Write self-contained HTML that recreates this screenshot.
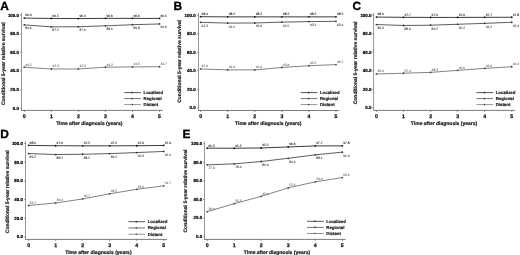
<!DOCTYPE html>
<html><head><meta charset="utf-8"><title>Figure</title>
<style>
html,body{margin:0;padding:0;background:#fff;}
svg{display:block;will-change:transform;text-rendering:geometricPrecision;font-family:"Liberation Sans",sans-serif;}
.l{font-size:11.9px;font-weight:bold;fill:#000;stroke:#000;stroke-width:.35}
.t{font-size:4.45px;font-weight:bold;fill:#000;text-anchor:end;stroke:#000;stroke-width:.2}
.x{font-size:5.2px;font-weight:bold;fill:#111;text-anchor:middle;stroke:#111;stroke-width:.25}
.a{font-size:5.0px;font-weight:bold;fill:#222;text-anchor:middle;stroke:#222;stroke-width:.22}
.b{font-size:5.0px;font-weight:bold;fill:#222;text-anchor:middle;stroke:#222;stroke-width:.2}
.d{font-size:3.3px;text-anchor:middle;stroke-width:.08}
.g{font-size:4.3px;font-weight:bold;fill:#222;stroke:#222;stroke-width:.2}
</style></head><body>
<svg width="520" height="255" viewBox="0 0 520 255">
<rect width="520" height="255" fill="#fff"/>

<g>
<text class="l" x="0.3" y="9.6">A</text>
<path d="M21.5 12.80 V110.4" fill="none" stroke="#6a6a6a" stroke-width="0.7"/>
<path d="M21.15 110.4 H162.85" fill="none" stroke="#444" stroke-width="0.7"/>
<path d="M20.2 108.40 H21.5" stroke="#444" stroke-width="0.6"/>
<text class="t" x="19.00" y="109.70">0.0</text>
<path d="M20.2 89.76 H21.5" stroke="#444" stroke-width="0.6"/>
<text class="t" x="19.00" y="91.06">20.0</text>
<path d="M20.2 71.12 H21.5" stroke="#444" stroke-width="0.6"/>
<text class="t" x="19.00" y="72.42">40.0</text>
<path d="M20.2 52.48 H21.5" stroke="#444" stroke-width="0.6"/>
<text class="t" x="19.00" y="53.78">60.0</text>
<path d="M20.2 33.84 H21.5" stroke="#444" stroke-width="0.6"/>
<text class="t" x="19.00" y="35.14">80.0</text>
<path d="M20.2 15.20 H21.5" stroke="#444" stroke-width="0.6"/>
<text class="t" x="19.00" y="16.50">100.0</text>
<path d="M24.30 110.4 V111.9" stroke="#444" stroke-width="0.6"/>
<text class="x" x="24.30" y="117.60">0</text>
<path d="M51.35 110.4 V111.9" stroke="#444" stroke-width="0.6"/>
<text class="x" x="51.35" y="117.60">1</text>
<path d="M78.40 110.4 V111.9" stroke="#444" stroke-width="0.6"/>
<text class="x" x="78.40" y="117.60">2</text>
<path d="M105.45 110.4 V111.9" stroke="#444" stroke-width="0.6"/>
<text class="x" x="105.45" y="117.60">3</text>
<path d="M132.50 110.4 V111.9" stroke="#444" stroke-width="0.6"/>
<text class="x" x="132.50" y="117.60">4</text>
<path d="M159.55 110.4 V111.9" stroke="#444" stroke-width="0.6"/>
<text class="x" x="159.55" y="117.60">5</text>
<text class="a" x="89.30" y="124.80">Time after diagnosis (years)</text>
<text class="b" transform="translate(3.00 63.70) rotate(-90)" y="1.6">Conditional 5-year relative survival</text>
<polyline points="24.30,18.09 51.35,18.46 78.40,18.56 105.45,18.37 132.50,18.37 159.55,18.46" fill="none" stroke="#111" stroke-width="0.82"/>
<circle cx="24.30" cy="18.09" r="0.9" fill="#111"/>
<text class="d" fill="#222" stroke="#222" x="28.50" y="16.44">96.9</text>
<circle cx="51.35" cy="18.46" r="0.9" fill="#111"/>
<text class="d" fill="#222" stroke="#222" x="55.55" y="16.81">96.5</text>
<circle cx="78.40" cy="18.56" r="0.9" fill="#111"/>
<text class="d" fill="#222" stroke="#222" x="82.60" y="16.91">96.4</text>
<circle cx="105.45" cy="18.37" r="0.9" fill="#111"/>
<text class="d" fill="#222" stroke="#222" x="109.65" y="16.72">96.6</text>
<circle cx="132.50" cy="18.37" r="0.9" fill="#111"/>
<text class="d" fill="#222" stroke="#222" x="136.70" y="16.72">96.6</text>
<circle cx="159.55" cy="18.46" r="0.9" fill="#111"/>
<text class="d" fill="#222" stroke="#222" x="163.75" y="16.81">96.5</text>
<polyline points="24.30,24.89 51.35,26.85 78.40,26.76 105.45,25.82 132.50,24.71 159.55,23.96" fill="none" stroke="#3a3a3a" stroke-width="0.82"/>
<circle cx="24.30" cy="24.89" r="0.9" fill="#333"/>
<text class="d" fill="#4a4a4a" stroke="#4a4a4a" x="28.50" y="29.39">89.6</text>
<circle cx="51.35" cy="26.85" r="0.9" fill="#333"/>
<text class="d" fill="#4a4a4a" stroke="#4a4a4a" x="55.55" y="31.35">87.5</text>
<circle cx="78.40" cy="26.76" r="0.9" fill="#333"/>
<text class="d" fill="#4a4a4a" stroke="#4a4a4a" x="82.60" y="31.26">87.6</text>
<circle cx="105.45" cy="25.82" r="0.9" fill="#333"/>
<text class="d" fill="#4a4a4a" stroke="#4a4a4a" x="109.65" y="30.32">88.6</text>
<circle cx="132.50" cy="24.71" r="0.9" fill="#333"/>
<text class="d" fill="#4a4a4a" stroke="#4a4a4a" x="136.70" y="29.21">89.8</text>
<circle cx="159.55" cy="23.96" r="0.9" fill="#333"/>
<text class="d" fill="#4a4a4a" stroke="#4a4a4a" x="163.75" y="28.46">90.6</text>
<polyline points="24.30,67.21 51.35,68.98 78.40,68.98 105.45,67.21 132.50,66.93 159.55,66.74" fill="none" stroke="#666" stroke-width="0.82"/>
<circle cx="24.30" cy="67.21" r="0.9" fill="#444"/>
<text class="d" fill="#6a6a6a" stroke="#6a6a6a" x="28.50" y="65.56">44.2</text>
<circle cx="51.35" cy="68.98" r="0.9" fill="#444"/>
<text class="d" fill="#6a6a6a" stroke="#6a6a6a" x="55.55" y="67.33">42.3</text>
<circle cx="78.40" cy="68.98" r="0.9" fill="#444"/>
<text class="d" fill="#6a6a6a" stroke="#6a6a6a" x="82.60" y="67.33">42.3</text>
<circle cx="105.45" cy="67.21" r="0.9" fill="#444"/>
<text class="d" fill="#6a6a6a" stroke="#6a6a6a" x="109.65" y="65.56">44.2</text>
<circle cx="132.50" cy="66.93" r="0.9" fill="#444"/>
<text class="d" fill="#6a6a6a" stroke="#6a6a6a" x="136.70" y="65.28">44.5</text>
<circle cx="159.55" cy="66.74" r="0.9" fill="#444"/>
<text class="d" fill="#6a6a6a" stroke="#6a6a6a" x="163.75" y="65.09">44.7</text>
<path d="M124.25 92.60 H140.95" stroke="#111" stroke-width="0.7"/><circle cx="132.15" cy="92.60" r="0.8" fill="#111"/>
<text class="g" x="143.55" y="94.10">Localized</text>
<path d="M124.25 98.60 H140.95" stroke="#3a3a3a" stroke-width="0.7"/><circle cx="132.15" cy="98.60" r="0.8" fill="#333"/>
<text class="g" x="143.55" y="100.10">Regional</text>
<path d="M124.25 104.60 H140.95" stroke="#666" stroke-width="0.7"/><circle cx="132.15" cy="104.60" r="0.8" fill="#444"/>
<text class="g" x="143.55" y="106.10">Distant</text>
</g>
<g>
<text class="l" x="173.6" y="9.7">B</text>
<path d="M198.5 12.80 V110.5" fill="none" stroke="#6a6a6a" stroke-width="0.7"/>
<path d="M198.15 110.5 H339.30" fill="none" stroke="#444" stroke-width="0.7"/>
<path d="M197.2 107.90 H198.5" stroke="#444" stroke-width="0.6"/>
<text class="t" x="195.70" y="109.20">0.0</text>
<path d="M197.2 89.36 H198.5" stroke="#444" stroke-width="0.6"/>
<text class="t" x="195.70" y="90.66">20.0</text>
<path d="M197.2 70.82 H198.5" stroke="#444" stroke-width="0.6"/>
<text class="t" x="195.70" y="72.12">40.0</text>
<path d="M197.2 52.28 H198.5" stroke="#444" stroke-width="0.6"/>
<text class="t" x="195.70" y="53.58">60.0</text>
<path d="M197.2 33.74 H198.5" stroke="#444" stroke-width="0.6"/>
<text class="t" x="195.70" y="35.04">80.0</text>
<path d="M197.2 15.20 H198.5" stroke="#444" stroke-width="0.6"/>
<text class="t" x="195.70" y="16.50">100.0</text>
<path d="M200.60 110.5 V112.0" stroke="#444" stroke-width="0.6"/>
<text class="x" x="200.60" y="117.70">0</text>
<path d="M227.68 110.5 V112.0" stroke="#444" stroke-width="0.6"/>
<text class="x" x="227.68" y="117.70">1</text>
<path d="M254.76 110.5 V112.0" stroke="#444" stroke-width="0.6"/>
<text class="x" x="254.76" y="117.70">2</text>
<path d="M281.84 110.5 V112.0" stroke="#444" stroke-width="0.6"/>
<text class="x" x="281.84" y="117.70">3</text>
<path d="M308.92 110.5 V112.0" stroke="#444" stroke-width="0.6"/>
<text class="x" x="308.92" y="117.70">4</text>
<path d="M336.00 110.5 V112.0" stroke="#444" stroke-width="0.6"/>
<text class="x" x="336.00" y="117.70">5</text>
<text class="a" x="268.20" y="124.90">Time after diagnosis (years)</text>
<text class="b" transform="translate(179.20 61.40) rotate(-90)" y="1.6">Conditional 5-year relative survival</text>
<polyline points="200.60,16.68 227.68,16.87 254.76,16.87 281.84,16.87 308.92,16.87 336.00,16.87" fill="none" stroke="#111" stroke-width="0.82"/>
<circle cx="200.60" cy="16.68" r="0.9" fill="#111"/>
<text class="d" fill="#222" stroke="#222" x="204.80" y="15.03">98.4</text>
<circle cx="227.68" cy="16.87" r="0.9" fill="#111"/>
<text class="d" fill="#222" stroke="#222" x="231.88" y="15.22">98.2</text>
<circle cx="254.76" cy="16.87" r="0.9" fill="#111"/>
<text class="d" fill="#222" stroke="#222" x="258.96" y="15.22">98.2</text>
<circle cx="281.84" cy="16.87" r="0.9" fill="#111"/>
<text class="d" fill="#222" stroke="#222" x="286.04" y="15.22">98.2</text>
<circle cx="308.92" cy="16.87" r="0.9" fill="#111"/>
<text class="d" fill="#222" stroke="#222" x="313.12" y="15.22">98.2</text>
<circle cx="336.00" cy="16.87" r="0.9" fill="#111"/>
<text class="d" fill="#222" stroke="#222" x="340.20" y="15.22">98.2</text>
<polyline points="200.60,22.34 227.68,23.08 254.76,22.99 281.84,22.15 308.92,21.60 336.00,21.32" fill="none" stroke="#3a3a3a" stroke-width="0.82"/>
<circle cx="200.60" cy="22.34" r="0.9" fill="#333"/>
<text class="d" fill="#4a4a4a" stroke="#4a4a4a" x="204.80" y="26.84">92.3</text>
<circle cx="227.68" cy="23.08" r="0.9" fill="#333"/>
<text class="d" fill="#4a4a4a" stroke="#4a4a4a" x="231.88" y="27.58">91.5</text>
<circle cx="254.76" cy="22.99" r="0.9" fill="#333"/>
<text class="d" fill="#4a4a4a" stroke="#4a4a4a" x="258.96" y="27.49">91.6</text>
<circle cx="281.84" cy="22.15" r="0.9" fill="#333"/>
<text class="d" fill="#4a4a4a" stroke="#4a4a4a" x="286.04" y="26.65">92.5</text>
<circle cx="308.92" cy="21.60" r="0.9" fill="#333"/>
<text class="d" fill="#4a4a4a" stroke="#4a4a4a" x="313.12" y="26.10">93.1</text>
<circle cx="336.00" cy="21.32" r="0.9" fill="#333"/>
<text class="d" fill="#4a4a4a" stroke="#4a4a4a" x="340.20" y="25.82">93.4</text>
<polyline points="200.60,68.97 227.68,69.89 254.76,69.89 281.84,67.48 308.92,65.72 336.00,64.61" fill="none" stroke="#666" stroke-width="0.82"/>
<circle cx="200.60" cy="68.97" r="0.9" fill="#444"/>
<text class="d" fill="#6a6a6a" stroke="#6a6a6a" x="204.80" y="67.32">42.0</text>
<circle cx="227.68" cy="69.89" r="0.9" fill="#444"/>
<text class="d" fill="#6a6a6a" stroke="#6a6a6a" x="231.88" y="68.24">41.0</text>
<circle cx="254.76" cy="69.89" r="0.9" fill="#444"/>
<text class="d" fill="#6a6a6a" stroke="#6a6a6a" x="258.96" y="68.24">41.0</text>
<circle cx="281.84" cy="67.48" r="0.9" fill="#444"/>
<text class="d" fill="#6a6a6a" stroke="#6a6a6a" x="286.04" y="65.83">43.6</text>
<circle cx="308.92" cy="65.72" r="0.9" fill="#444"/>
<text class="d" fill="#6a6a6a" stroke="#6a6a6a" x="313.12" y="64.07">45.5</text>
<circle cx="336.00" cy="64.61" r="0.9" fill="#444"/>
<text class="d" fill="#6a6a6a" stroke="#6a6a6a" x="340.20" y="62.96">46.7</text>
<path d="M300.70 92.60 H317.40" stroke="#111" stroke-width="0.7"/><circle cx="308.60" cy="92.60" r="0.8" fill="#111"/>
<text class="g" x="320.00" y="94.10">Localized</text>
<path d="M300.70 98.60 H317.40" stroke="#3a3a3a" stroke-width="0.7"/><circle cx="308.60" cy="98.60" r="0.8" fill="#333"/>
<text class="g" x="320.00" y="100.10">Regional</text>
<path d="M300.70 104.60 H317.40" stroke="#666" stroke-width="0.7"/><circle cx="308.60" cy="104.60" r="0.8" fill="#444"/>
<text class="g" x="320.00" y="106.10">Distant</text>
</g>
<g>
<text class="l" x="352.4" y="9.7">C</text>
<path d="M373.6 12.80 V110.4" fill="none" stroke="#6a6a6a" stroke-width="0.7"/>
<path d="M373.25 110.4 H515.05" fill="none" stroke="#444" stroke-width="0.7"/>
<path d="M372.3 107.90 H373.6" stroke="#444" stroke-width="0.6"/>
<text class="t" x="371.50" y="109.20">0.0</text>
<path d="M372.3 89.36 H373.6" stroke="#444" stroke-width="0.6"/>
<text class="t" x="371.50" y="90.66">20.0</text>
<path d="M372.3 70.82 H373.6" stroke="#444" stroke-width="0.6"/>
<text class="t" x="371.50" y="72.12">40.0</text>
<path d="M372.3 52.28 H373.6" stroke="#444" stroke-width="0.6"/>
<text class="t" x="371.50" y="53.58">60.0</text>
<path d="M372.3 33.74 H373.6" stroke="#444" stroke-width="0.6"/>
<text class="t" x="371.50" y="35.04">80.0</text>
<path d="M372.3 15.20 H373.6" stroke="#444" stroke-width="0.6"/>
<text class="t" x="371.50" y="16.50">100.0</text>
<path d="M376.50 110.4 V111.9" stroke="#444" stroke-width="0.6"/>
<text class="x" x="376.50" y="117.60">0</text>
<path d="M403.55 110.4 V111.9" stroke="#444" stroke-width="0.6"/>
<text class="x" x="403.55" y="117.60">1</text>
<path d="M430.60 110.4 V111.9" stroke="#444" stroke-width="0.6"/>
<text class="x" x="430.60" y="117.60">2</text>
<path d="M457.65 110.4 V111.9" stroke="#444" stroke-width="0.6"/>
<text class="x" x="457.65" y="117.60">3</text>
<path d="M484.70 110.4 V111.9" stroke="#444" stroke-width="0.6"/>
<text class="x" x="484.70" y="117.60">4</text>
<path d="M511.75 110.4 V111.9" stroke="#444" stroke-width="0.6"/>
<text class="x" x="511.75" y="117.60">5</text>
<text class="a" x="444.00" y="124.80">Time after diagnosis (years)</text>
<text class="b" transform="translate(355.50 62.90) rotate(-90)" y="1.6">Conditional 5-year relative survival</text>
<polyline points="376.50,17.05 403.55,17.33 430.60,17.42 457.65,17.42 484.70,17.33 511.75,17.24" fill="none" stroke="#111" stroke-width="0.82"/>
<circle cx="376.50" cy="17.05" r="0.9" fill="#111"/>
<text class="d" fill="#222" stroke="#222" x="380.70" y="15.40">98.0</text>
<circle cx="403.55" cy="17.33" r="0.9" fill="#111"/>
<text class="d" fill="#222" stroke="#222" x="407.75" y="15.68">97.7</text>
<circle cx="430.60" cy="17.42" r="0.9" fill="#111"/>
<text class="d" fill="#222" stroke="#222" x="434.80" y="15.77">97.6</text>
<circle cx="457.65" cy="17.42" r="0.9" fill="#111"/>
<text class="d" fill="#222" stroke="#222" x="461.85" y="15.77">97.6</text>
<circle cx="484.70" cy="17.33" r="0.9" fill="#111"/>
<text class="d" fill="#222" stroke="#222" x="488.90" y="15.68">97.7</text>
<circle cx="511.75" cy="17.24" r="0.9" fill="#111"/>
<text class="d" fill="#222" stroke="#222" x="515.95" y="15.59">97.8</text>
<polyline points="376.50,24.56 403.55,25.49 430.60,25.21 457.65,24.28 484.70,23.36 511.75,22.25" fill="none" stroke="#3a3a3a" stroke-width="0.82"/>
<circle cx="376.50" cy="24.56" r="0.9" fill="#333"/>
<text class="d" fill="#4a4a4a" stroke="#4a4a4a" x="380.70" y="29.06">89.9</text>
<circle cx="403.55" cy="25.49" r="0.9" fill="#333"/>
<text class="d" fill="#4a4a4a" stroke="#4a4a4a" x="407.75" y="29.99">88.9</text>
<circle cx="430.60" cy="25.21" r="0.9" fill="#333"/>
<text class="d" fill="#4a4a4a" stroke="#4a4a4a" x="434.80" y="29.71">89.2</text>
<circle cx="457.65" cy="24.28" r="0.9" fill="#333"/>
<text class="d" fill="#4a4a4a" stroke="#4a4a4a" x="461.85" y="28.78">90.2</text>
<circle cx="484.70" cy="23.36" r="0.9" fill="#333"/>
<text class="d" fill="#4a4a4a" stroke="#4a4a4a" x="488.90" y="27.86">91.2</text>
<circle cx="511.75" cy="22.25" r="0.9" fill="#333"/>
<text class="d" fill="#4a4a4a" stroke="#4a4a4a" x="515.95" y="26.75">92.4</text>
<polyline points="376.50,73.97 403.55,73.23 430.60,72.40 457.65,70.36 484.70,68.41 511.75,66.74" fill="none" stroke="#666" stroke-width="0.82"/>
<circle cx="376.50" cy="73.97" r="0.9" fill="#444"/>
<text class="d" fill="#6a6a6a" stroke="#6a6a6a" x="380.70" y="72.32">36.6</text>
<circle cx="403.55" cy="73.23" r="0.9" fill="#444"/>
<text class="d" fill="#6a6a6a" stroke="#6a6a6a" x="407.75" y="71.58">37.4</text>
<circle cx="430.60" cy="72.40" r="0.9" fill="#444"/>
<text class="d" fill="#6a6a6a" stroke="#6a6a6a" x="434.80" y="70.75">38.3</text>
<circle cx="457.65" cy="70.36" r="0.9" fill="#444"/>
<text class="d" fill="#6a6a6a" stroke="#6a6a6a" x="461.85" y="68.71">40.5</text>
<circle cx="484.70" cy="68.41" r="0.9" fill="#444"/>
<text class="d" fill="#6a6a6a" stroke="#6a6a6a" x="488.90" y="66.76">42.6</text>
<circle cx="511.75" cy="66.74" r="0.9" fill="#444"/>
<text class="d" fill="#6a6a6a" stroke="#6a6a6a" x="515.95" y="65.09">44.4</text>
<path d="M476.45 92.60 H493.15" stroke="#111" stroke-width="0.7"/><circle cx="484.35" cy="92.60" r="0.8" fill="#111"/>
<text class="g" x="495.75" y="94.10">Localized</text>
<path d="M476.45 98.60 H493.15" stroke="#3a3a3a" stroke-width="0.7"/><circle cx="484.35" cy="98.60" r="0.8" fill="#333"/>
<text class="g" x="495.75" y="100.10">Regional</text>
<path d="M476.45 104.60 H493.15" stroke="#666" stroke-width="0.7"/><circle cx="484.35" cy="104.60" r="0.8" fill="#444"/>
<text class="g" x="495.75" y="106.10">Distant</text>
</g>
<g>
<text class="l" x="0.3" y="137.9">D</text>
<path d="M25.5 141.10 V239.4" fill="none" stroke="#6a6a6a" stroke-width="0.7"/>
<path d="M25.15 239.4 H167.05" fill="none" stroke="#444" stroke-width="0.7"/>
<path d="M24.2 237.00 H25.5" stroke="#444" stroke-width="0.6"/>
<text class="t" x="23.00" y="238.30">0.0</text>
<path d="M24.2 218.30 H25.5" stroke="#444" stroke-width="0.6"/>
<text class="t" x="23.00" y="219.60">20.0</text>
<path d="M24.2 199.60 H25.5" stroke="#444" stroke-width="0.6"/>
<text class="t" x="23.00" y="200.90">40.0</text>
<path d="M24.2 180.90 H25.5" stroke="#444" stroke-width="0.6"/>
<text class="t" x="23.00" y="182.20">60.0</text>
<path d="M24.2 162.20 H25.5" stroke="#444" stroke-width="0.6"/>
<text class="t" x="23.00" y="163.50">80.0</text>
<path d="M24.2 143.50 H25.5" stroke="#444" stroke-width="0.6"/>
<text class="t" x="23.00" y="144.80">100.0</text>
<path d="M28.60 239.4 V240.9" stroke="#444" stroke-width="0.6"/>
<text class="x" x="28.60" y="246.60">0</text>
<path d="M55.63 239.4 V240.9" stroke="#444" stroke-width="0.6"/>
<text class="x" x="55.63" y="246.60">1</text>
<path d="M82.66 239.4 V240.9" stroke="#444" stroke-width="0.6"/>
<text class="x" x="82.66" y="246.60">2</text>
<path d="M109.69 239.4 V240.9" stroke="#444" stroke-width="0.6"/>
<text class="x" x="109.69" y="246.60">3</text>
<path d="M136.72 239.4 V240.9" stroke="#444" stroke-width="0.6"/>
<text class="x" x="136.72" y="246.60">4</text>
<path d="M163.75 239.4 V240.9" stroke="#444" stroke-width="0.6"/>
<text class="x" x="163.75" y="246.60">5</text>
<text class="a" x="98.40" y="253.80">Time after diagnosis (years)</text>
<text class="b" transform="translate(7.00 191.80) rotate(-90)" y="1.6">Conditional 5-year relative survival</text>
<polyline points="28.60,145.37 55.63,145.74 82.66,145.84 109.69,145.84 136.72,145.74 163.75,145.46" fill="none" stroke="#111" stroke-width="0.82"/>
<circle cx="28.60" cy="145.37" r="0.9" fill="#111"/>
<text class="d" fill="#222" stroke="#222" x="32.80" y="143.72">98.0</text>
<circle cx="55.63" cy="145.74" r="0.9" fill="#111"/>
<text class="d" fill="#222" stroke="#222" x="59.83" y="144.09">97.6</text>
<circle cx="82.66" cy="145.84" r="0.9" fill="#111"/>
<text class="d" fill="#222" stroke="#222" x="86.86" y="144.19">97.5</text>
<circle cx="109.69" cy="145.84" r="0.9" fill="#111"/>
<text class="d" fill="#222" stroke="#222" x="113.89" y="144.19">97.5</text>
<circle cx="136.72" cy="145.74" r="0.9" fill="#111"/>
<text class="d" fill="#222" stroke="#222" x="140.92" y="144.09">97.6</text>
<circle cx="163.75" cy="145.46" r="0.9" fill="#111"/>
<text class="d" fill="#222" stroke="#222" x="167.95" y="143.81">97.9</text>
<polyline points="28.60,153.60 55.63,154.53 82.66,154.25 109.69,153.60 136.72,152.57 163.75,151.45" fill="none" stroke="#3a3a3a" stroke-width="0.82"/>
<circle cx="28.60" cy="153.60" r="0.9" fill="#333"/>
<text class="d" fill="#4a4a4a" stroke="#4a4a4a" x="32.80" y="158.10">89.2</text>
<circle cx="55.63" cy="154.53" r="0.9" fill="#333"/>
<text class="d" fill="#4a4a4a" stroke="#4a4a4a" x="59.83" y="159.03">88.2</text>
<circle cx="82.66" cy="154.25" r="0.9" fill="#333"/>
<text class="d" fill="#4a4a4a" stroke="#4a4a4a" x="86.86" y="158.75">88.5</text>
<circle cx="109.69" cy="153.60" r="0.9" fill="#333"/>
<text class="d" fill="#4a4a4a" stroke="#4a4a4a" x="113.89" y="158.10">89.2</text>
<circle cx="136.72" cy="152.57" r="0.9" fill="#333"/>
<text class="d" fill="#4a4a4a" stroke="#4a4a4a" x="140.92" y="157.07">90.3</text>
<circle cx="163.75" cy="151.45" r="0.9" fill="#333"/>
<text class="d" fill="#4a4a4a" stroke="#4a4a4a" x="167.95" y="155.95">91.5</text>
<polyline points="28.60,205.49 55.63,202.97 82.66,198.95 109.69,193.80 136.72,189.31 163.75,185.86" fill="none" stroke="#666" stroke-width="0.82"/>
<circle cx="28.60" cy="205.49" r="0.9" fill="#444"/>
<text class="d" fill="#6a6a6a" stroke="#6a6a6a" x="32.80" y="203.84">33.7</text>
<circle cx="55.63" cy="202.97" r="0.9" fill="#444"/>
<text class="d" fill="#6a6a6a" stroke="#6a6a6a" x="59.83" y="201.32">36.4</text>
<circle cx="82.66" cy="198.95" r="0.9" fill="#444"/>
<text class="d" fill="#6a6a6a" stroke="#6a6a6a" x="86.86" y="197.30">40.7</text>
<circle cx="109.69" cy="193.80" r="0.9" fill="#444"/>
<text class="d" fill="#6a6a6a" stroke="#6a6a6a" x="113.89" y="192.15">46.2</text>
<circle cx="136.72" cy="189.31" r="0.9" fill="#444"/>
<text class="d" fill="#6a6a6a" stroke="#6a6a6a" x="140.92" y="187.66">51.0</text>
<circle cx="163.75" cy="185.86" r="0.9" fill="#444"/>
<text class="d" fill="#6a6a6a" stroke="#6a6a6a" x="167.95" y="184.21">54.7</text>
<path d="M128.45 221.70 H145.15" stroke="#111" stroke-width="0.7"/><circle cx="136.35" cy="221.70" r="0.8" fill="#111"/>
<text class="g" x="147.75" y="223.20">Localized</text>
<path d="M128.45 227.95 H145.15" stroke="#3a3a3a" stroke-width="0.7"/><circle cx="136.35" cy="227.95" r="0.8" fill="#333"/>
<text class="g" x="147.75" y="229.45">Regional</text>
<path d="M128.45 234.20 H145.15" stroke="#666" stroke-width="0.7"/><circle cx="136.35" cy="234.20" r="0.8" fill="#444"/>
<text class="g" x="147.75" y="235.70">Distant</text>
</g>
<g>
<text class="l" x="182.6" y="137.8">E</text>
<path d="M204.5 141.40 V239.4" fill="none" stroke="#6a6a6a" stroke-width="0.7"/>
<path d="M204.15 239.4 H345.60" fill="none" stroke="#444" stroke-width="0.7"/>
<path d="M203.2 236.60 H204.5" stroke="#444" stroke-width="0.6"/>
<text class="t" x="202.20" y="237.90">0.0</text>
<path d="M203.2 218.04 H204.5" stroke="#444" stroke-width="0.6"/>
<text class="t" x="202.20" y="219.34">20.0</text>
<path d="M203.2 199.48 H204.5" stroke="#444" stroke-width="0.6"/>
<text class="t" x="202.20" y="200.78">40.0</text>
<path d="M203.2 180.92 H204.5" stroke="#444" stroke-width="0.6"/>
<text class="t" x="202.20" y="182.22">60.0</text>
<path d="M203.2 162.36 H204.5" stroke="#444" stroke-width="0.6"/>
<text class="t" x="202.20" y="163.66">80.0</text>
<path d="M203.2 143.80 H204.5" stroke="#444" stroke-width="0.6"/>
<text class="t" x="202.20" y="145.10">100.0</text>
<path d="M207.20 239.4 V240.9" stroke="#444" stroke-width="0.6"/>
<text class="x" x="207.20" y="246.60">0</text>
<path d="M234.22 239.4 V240.9" stroke="#444" stroke-width="0.6"/>
<text class="x" x="234.22" y="246.60">1</text>
<path d="M261.24 239.4 V240.9" stroke="#444" stroke-width="0.6"/>
<text class="x" x="261.24" y="246.60">2</text>
<path d="M288.26 239.4 V240.9" stroke="#444" stroke-width="0.6"/>
<text class="x" x="288.26" y="246.60">3</text>
<path d="M315.28 239.4 V240.9" stroke="#444" stroke-width="0.6"/>
<text class="x" x="315.28" y="246.60">4</text>
<path d="M342.30 239.4 V240.9" stroke="#444" stroke-width="0.6"/>
<text class="x" x="342.30" y="246.60">5</text>
<text class="a" x="277.00" y="253.80">Time after diagnosis (years)</text>
<text class="b" transform="translate(185.70 191.10) rotate(-90)" y="1.6">Conditional 5-year relative survival</text>
<polyline points="207.20,148.16 234.22,148.25 261.24,147.98 288.26,146.96 315.28,145.93 342.30,145.84" fill="none" stroke="#111" stroke-width="0.82"/>
<circle cx="207.20" cy="148.16" r="0.9" fill="#111"/>
<text class="d" fill="#222" stroke="#222" x="211.40" y="146.51">95.3</text>
<circle cx="234.22" cy="148.25" r="0.9" fill="#111"/>
<text class="d" fill="#222" stroke="#222" x="238.42" y="146.60">95.2</text>
<circle cx="261.24" cy="147.98" r="0.9" fill="#111"/>
<text class="d" fill="#222" stroke="#222" x="265.44" y="146.33">95.5</text>
<circle cx="288.26" cy="146.96" r="0.9" fill="#111"/>
<text class="d" fill="#222" stroke="#222" x="292.46" y="145.31">96.6</text>
<circle cx="315.28" cy="145.93" r="0.9" fill="#111"/>
<text class="d" fill="#222" stroke="#222" x="319.48" y="144.28">97.7</text>
<circle cx="342.30" cy="145.84" r="0.9" fill="#111"/>
<text class="d" fill="#222" stroke="#222" x="346.50" y="144.19">97.8</text>
<polyline points="207.20,164.87 234.22,163.84 261.24,161.52 288.26,158.28 315.28,154.84 342.30,152.15" fill="none" stroke="#3a3a3a" stroke-width="0.82"/>
<circle cx="207.20" cy="164.87" r="0.9" fill="#333"/>
<text class="d" fill="#4a4a4a" stroke="#4a4a4a" x="211.40" y="169.37">77.3</text>
<circle cx="234.22" cy="163.84" r="0.9" fill="#333"/>
<text class="d" fill="#4a4a4a" stroke="#4a4a4a" x="238.42" y="168.34">78.4</text>
<circle cx="261.24" cy="161.52" r="0.9" fill="#333"/>
<text class="d" fill="#4a4a4a" stroke="#4a4a4a" x="265.44" y="166.02">80.9</text>
<circle cx="288.26" cy="158.28" r="0.9" fill="#333"/>
<text class="d" fill="#4a4a4a" stroke="#4a4a4a" x="292.46" y="162.78">84.4</text>
<circle cx="315.28" cy="154.84" r="0.9" fill="#333"/>
<text class="d" fill="#4a4a4a" stroke="#4a4a4a" x="319.48" y="159.34">88.1</text>
<circle cx="342.30" cy="152.15" r="0.9" fill="#333"/>
<text class="d" fill="#4a4a4a" stroke="#4a4a4a" x="346.50" y="156.65">91.0</text>
<polyline points="207.20,211.64 234.22,203.66 261.24,196.32 288.26,187.88 315.28,181.85 342.30,177.58" fill="none" stroke="#666" stroke-width="0.82"/>
<circle cx="207.20" cy="211.64" r="0.9" fill="#444"/>
<text class="d" fill="#6a6a6a" stroke="#6a6a6a" x="211.40" y="209.99">26.9</text>
<circle cx="234.22" cy="203.66" r="0.9" fill="#444"/>
<text class="d" fill="#6a6a6a" stroke="#6a6a6a" x="238.42" y="202.01">35.5</text>
<circle cx="261.24" cy="196.32" r="0.9" fill="#444"/>
<text class="d" fill="#6a6a6a" stroke="#6a6a6a" x="265.44" y="194.67">43.4</text>
<circle cx="288.26" cy="187.88" r="0.9" fill="#444"/>
<text class="d" fill="#6a6a6a" stroke="#6a6a6a" x="292.46" y="186.23">52.5</text>
<circle cx="315.28" cy="181.85" r="0.9" fill="#444"/>
<text class="d" fill="#6a6a6a" stroke="#6a6a6a" x="319.48" y="180.20">59.0</text>
<circle cx="342.30" cy="177.58" r="0.9" fill="#444"/>
<text class="d" fill="#6a6a6a" stroke="#6a6a6a" x="346.50" y="175.93">63.6</text>
<path d="M307.00 221.30 H323.70" stroke="#111" stroke-width="0.7"/><circle cx="314.90" cy="221.30" r="0.8" fill="#111"/>
<text class="g" x="326.30" y="222.80">Localized</text>
<path d="M307.00 227.40 H323.70" stroke="#3a3a3a" stroke-width="0.7"/><circle cx="314.90" cy="227.40" r="0.8" fill="#333"/>
<text class="g" x="326.30" y="228.90">Regional</text>
<path d="M307.00 233.50 H323.70" stroke="#666" stroke-width="0.7"/><circle cx="314.90" cy="233.50" r="0.8" fill="#444"/>
<text class="g" x="326.30" y="235.00">Distant</text>
</g>
</svg></body></html>
